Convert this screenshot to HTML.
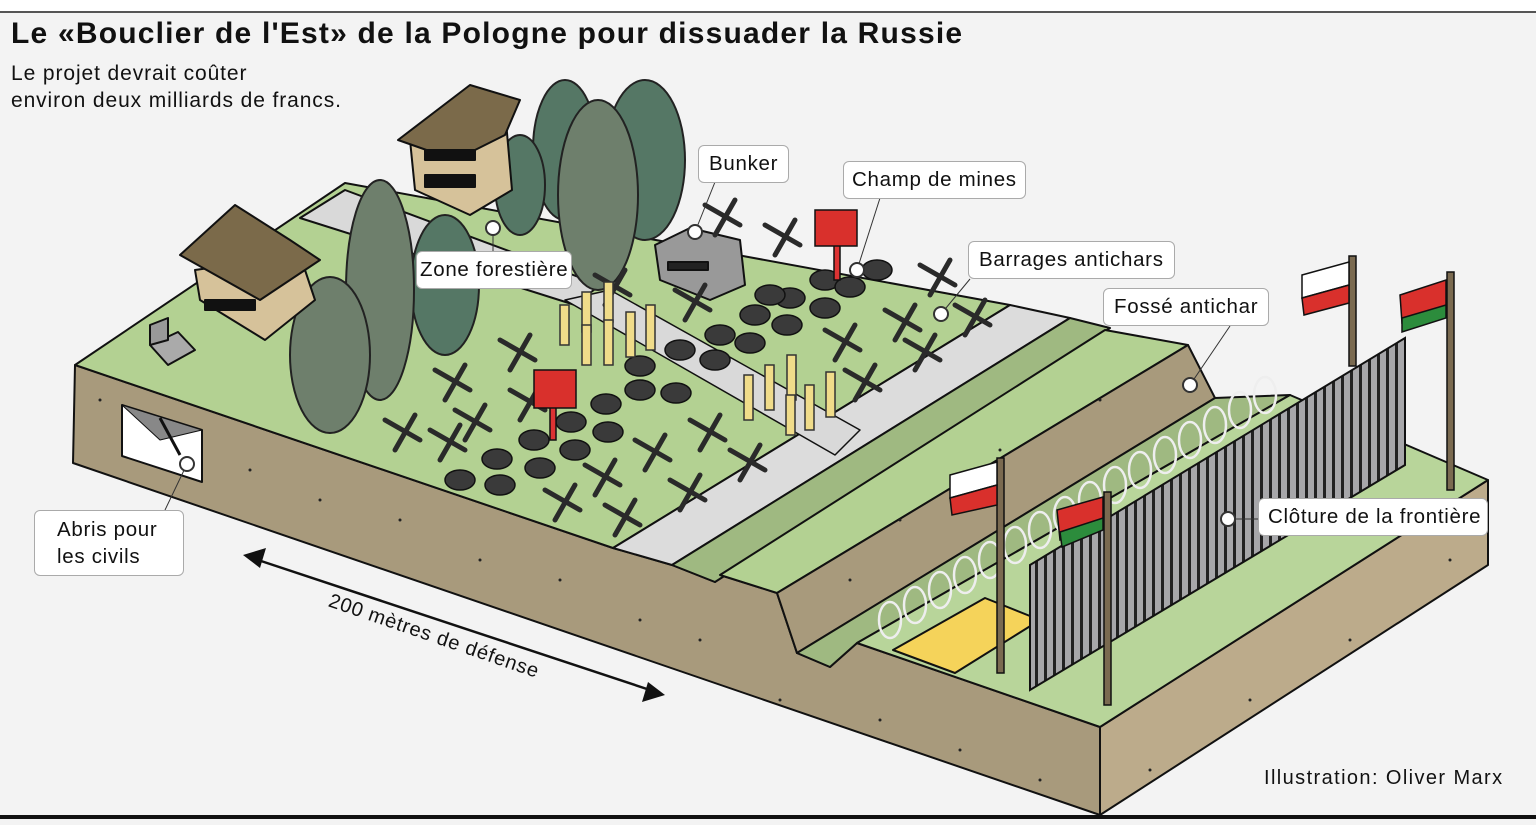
<!DOCTYPE html>
<html><head><meta charset="utf-8"><style>
html,body{margin:0;padding:0;}
body{width:1536px;height:825px;background:#f3f3f3;position:relative;overflow:hidden;font-family:"Liberation Sans",sans-serif;}
.top{position:absolute;left:0;top:0;width:1536px;height:11px;background:#fff;border-bottom:2px solid #555;}
.bot{position:absolute;left:0;top:815px;width:1536px;height:4px;background:#111;}
h1{position:absolute;left:11px;top:17px;margin:0;font-size:30px;font-weight:bold;color:#111;letter-spacing:1.2px;white-space:nowrap;}
.sub{position:absolute;left:11px;top:60px;font-size:21px;line-height:27px;color:#111;letter-spacing:0.9px;}
.lbl{position:absolute;background:#fff;border:1px solid #aaa;border-radius:6px;font-size:20.5px;color:#111;padding:0 8px;line-height:36px;white-space:nowrap;letter-spacing:0.7px;}
.cred{position:absolute;left:1264px;top:767px;font-size:20px;color:#111;letter-spacing:1.4px;}
svg{position:absolute;left:0;top:0;}
</style></head><body>
<div class="top"></div>
<h1>Le «Bouclier de l'Est» de la Pologne pour dissuader la Russie</h1>
<div class="sub">Le projet devrait coûter<br>environ deux milliards de francs.</div>
<svg width="1536" height="825" viewBox="0 0 1536 825">
<defs>
<pattern id="fz" width="9" height="10" patternUnits="userSpaceOnUse"><rect width="9" height="10" fill="#a7a7aa"/><rect width="3" height="10" fill="#222"/></pattern>
</defs>
<g stroke="#111" stroke-width="2" stroke-linejoin="round">
<polygon points="75,365 613,548 672,565 715,582 720,575 777,593 797,653 830,667 857,643 1100,727 1100,815 73,463" fill="#a89a7c"/>
<polygon points="1100,727 1488,480 1488,565 1100,815" fill="#bcab8b"/>
<polygon points="75,365 345,183 1010,305 613,548" fill="#b3d192"/>
<polygon points="613,548 672,565 1070,318 1010,305" fill="#dcdcdc"/>
<polygon points="672,565 715,582 1110,328 1070,318" fill="#9fb981"/>
<polygon points="720,575 777,593 1188,345 1105,330" fill="#b3d192"/>
<polygon points="777,593 797,653 1215,398 1188,345" fill="#a89a7c"/>
<polygon points="797,653 830,667 857,643 1290,395 1215,398" fill="#9fb981"/>
<polygon points="857,643 1290,395 1488,480 1100,727" fill="#b8d59a"/>
<polygon points="893,650 955,673 1040,620 985,598" fill="#f5d35a"/>
<polygon points="300,218 345,190 600,285 575,305" fill="#d9d9d9"/>
<polygon points="565,300 610,290 860,430 835,455" fill="#d9d9d9" stroke-width="1.5"/>
<polygon points="122,405 202,430 202,482 122,456" fill="#fff"/>
<polygon points="122,405 202,430 160,440" fill="#888" stroke-width="1"/>
<line x1="160" y1="418" x2="180" y2="455" stroke-width="3"/>
<polygon points="150,345 178,332 195,350 168,365" fill="#aaa"/>
<polygon points="150,325 168,318 168,340 150,345" fill="#999"/>
</g>
<g fill="#222">
<circle cx="100" cy="400" r="1.5"/><circle cx="250" cy="470" r="1.5"/><circle cx="320" cy="500" r="1.5"/><circle cx="400" cy="520" r="1.5"/><circle cx="480" cy="560" r="1.5"/><circle cx="560" cy="580" r="1.5"/><circle cx="640" cy="620" r="1.5"/><circle cx="700" cy="640" r="1.5"/><circle cx="780" cy="700" r="1.5"/><circle cx="880" cy="720" r="1.5"/><circle cx="960" cy="750" r="1.5"/><circle cx="1040" cy="780" r="1.5"/><circle cx="1150" cy="770" r="1.5"/><circle cx="1250" cy="700" r="1.5"/><circle cx="1350" cy="640" r="1.5"/><circle cx="1450" cy="560" r="1.5"/><circle cx="900" cy="520" r="1.5"/><circle cx="1000" cy="450" r="1.5"/><circle cx="1100" cy="400" r="1.5"/><circle cx="850" cy="580" r="1.5"/>
</g>
<g stroke="#222" stroke-width="2">
<ellipse cx="565" cy="150" rx="32" ry="70" fill="#557765"/>
<ellipse cx="645" cy="160" rx="40" ry="80" fill="#557765"/>
<ellipse cx="520" cy="185" rx="25" ry="50" fill="#557765"/>
<ellipse cx="598" cy="195" rx="40" ry="95" fill="#6e7f6c"/>
<ellipse cx="445" cy="285" rx="34" ry="70" fill="#557765"/>
<ellipse cx="380" cy="290" rx="34" ry="110" fill="#6e7f6c"/>
<ellipse cx="330" cy="355" rx="40" ry="78" fill="#6e7f6c"/>
</g>
<g stroke="#111" stroke-width="2" stroke-linejoin="round">
<polygon points="410,140 505,110 512,190 470,215 415,190" fill="#d6c29a"/>
<polygon points="398,140 470,85 520,100 505,135 455,160" fill="#7b6a4a"/>
<rect x="425" y="150" width="50" height="10" fill="#111"/><rect x="425" y="175" width="50" height="12" fill="#111"/>
<polygon points="195,270 300,255 315,300 265,340 200,300" fill="#d6c29a"/>
<polygon points="180,255 235,205 290,240 320,260 260,300" fill="#7b6a4a"/>
<rect x="205" y="300" width="50" height="10" fill="#111"/>
<polygon points="655,245 690,228 740,240 745,285 710,300 660,280" fill="#999"/>
<rect x="668" y="262" width="40" height="8" fill="#222"/>
</g>
<g fill="#3a3a3a" stroke="#111" stroke-width="1.5">
<ellipse cx="460" cy="480" rx="15" ry="10"/><ellipse cx="497" cy="459" rx="15" ry="10"/><ellipse cx="534" cy="440" rx="15" ry="10"/><ellipse cx="571" cy="422" rx="15" ry="10"/><ellipse cx="606" cy="404" rx="15" ry="10"/><ellipse cx="640" cy="390" rx="15" ry="10"/><ellipse cx="676" cy="393" rx="15" ry="10"/><ellipse cx="640" cy="366" rx="15" ry="10"/>
<ellipse cx="540" cy="468" rx="15" ry="10"/><ellipse cx="575" cy="450" rx="15" ry="10"/><ellipse cx="608" cy="432" rx="15" ry="10"/><ellipse cx="500" cy="485" rx="15" ry="10"/>
<ellipse cx="720" cy="335" rx="15" ry="10"/><ellipse cx="755" cy="315" rx="15" ry="10"/><ellipse cx="790" cy="298" rx="15" ry="10"/><ellipse cx="825" cy="280" rx="15" ry="10"/><ellipse cx="850" cy="287" rx="15" ry="10"/><ellipse cx="877" cy="270" rx="15" ry="10"/>
<ellipse cx="715" cy="360" rx="15" ry="10"/><ellipse cx="750" cy="343" rx="15" ry="10"/><ellipse cx="787" cy="325" rx="15" ry="10"/><ellipse cx="825" cy="308" rx="15" ry="10"/><ellipse cx="680" cy="350" rx="15" ry="10"/><ellipse cx="770" cy="295" rx="15" ry="10"/>
</g>
<g stroke="#2a2a2a" stroke-width="5" stroke-linecap="round">
<path d="M435,370 l35,20 M465,365 l-20,35"/><path d="M500,340 l35,20 M530,335 l-20,35"/><path d="M455,410 l35,20 M485,405 l-20,35"/><path d="M510,390 l35,20 M540,385 l-20,35"/><path d="M385,420 l35,20 M415,415 l-20,35"/><path d="M430,430 l35,20 M460,425 l-20,35"/><path d="M545,490 l35,20 M575,485 l-20,35"/><path d="M585,465 l35,20 M615,460 l-20,35"/><path d="M635,440 l35,20 M665,435 l-20,35"/><path d="M605,505 l35,20 M635,500 l-20,35"/><path d="M690,420 l35,20 M720,415 l-20,35"/><path d="M730,450 l35,20 M760,445 l-20,35"/><path d="M670,480 l35,20 M700,475 l-20,35"/><path d="M705,205 l35,20 M735,200 l-20,35"/><path d="M765,225 l35,20 M795,220 l-20,35"/><path d="M675,290 l35,20 M705,285 l-20,35"/><path d="M825,330 l35,20 M855,325 l-20,35"/><path d="M885,310 l35,20 M915,305 l-20,35"/><path d="M920,265 l35,20 M950,260 l-20,35"/><path d="M955,305 l35,20 M985,300 l-20,35"/><path d="M905,340 l35,20 M935,335 l-20,35"/><path d="M845,370 l35,20 M875,365 l-20,35"/><path d="M595,275 l35,20 M625,270 l-20,35"/>
</g>
<g fill="#f0dc8a" stroke="#333" stroke-width="1.5">
<rect x="560" y="305" width="9" height="40"/><rect x="582" y="292" width="9" height="40"/><rect x="604" y="282" width="9" height="40"/><rect x="582" y="325" width="9" height="40"/><rect x="604" y="320" width="9" height="45"/><rect x="626" y="312" width="9" height="45"/><rect x="646" y="305" width="9" height="45"/>
<rect x="744" y="375" width="9" height="45"/><rect x="765" y="365" width="9" height="45"/><rect x="787" y="355" width="9" height="45"/><rect x="805" y="385" width="9" height="45"/><rect x="826" y="372" width="9" height="45"/><rect x="786" y="395" width="9" height="40"/>
</g>
<g stroke="#111" stroke-width="1.5">
<rect x="834" y="230" width="6" height="50" fill="#d33"/><rect x="815" y="210" width="42" height="36" fill="#d9302c"/>
<rect x="550" y="390" width="6" height="50" fill="#d33"/><rect x="534" y="370" width="42" height="38" fill="#d9302c"/>
</g>
<g fill="none" stroke="#eee" stroke-width="2.5">
<ellipse cx="890" cy="620" rx="11" ry="18"/><ellipse cx="915" cy="605" rx="11" ry="18"/><ellipse cx="940" cy="590" rx="11" ry="18"/><ellipse cx="965" cy="575" rx="11" ry="18"/><ellipse cx="990" cy="560" rx="11" ry="18"/><ellipse cx="1015" cy="545" rx="11" ry="18"/><ellipse cx="1040" cy="530" rx="11" ry="18"/><ellipse cx="1065" cy="515" rx="11" ry="18"/><ellipse cx="1090" cy="500" rx="11" ry="18"/><ellipse cx="1115" cy="485" rx="11" ry="18"/><ellipse cx="1140" cy="470" rx="11" ry="18"/><ellipse cx="1165" cy="455" rx="11" ry="18"/><ellipse cx="1190" cy="440" rx="11" ry="18"/><ellipse cx="1215" cy="425" rx="11" ry="18"/><ellipse cx="1240" cy="410" rx="11" ry="18"/><ellipse cx="1265" cy="395" rx="11" ry="18"/>
</g>
<polygon points="1030,565 1405,338 1405,465 1030,690" fill="url(#fz)" stroke="#111" stroke-width="2"/>
<g stroke="#111" stroke-width="1.5">
<rect x="997" y="458" width="7" height="215" fill="#7a6a50"/>
<polygon points="950,475 997,462 997,485 950,498" fill="#fff"/><polygon points="950,498 997,485 997,505 952,515" fill="#d9302c"/>
<rect x="1104" y="492" width="7" height="213" fill="#7a6a50"/>
<polygon points="1057,510 1103,497 1103,525 1060,540" fill="#d9302c"/><polygon points="1060,532 1103,518 1103,530 1062,547" fill="#2c8c3c"/>
<rect x="1349" y="256" width="7" height="110" fill="#7a6a50"/>
<polygon points="1302,275 1349,262 1349,285 1302,298" fill="#fff"/><polygon points="1302,298 1349,285 1349,303 1304,315" fill="#d9302c"/>
<rect x="1447" y="272" width="7" height="218" fill="#7a6a50"/>
<polygon points="1400,295 1446,280 1446,310 1402,323" fill="#d9302c"/><polygon points="1402,318 1446,305 1446,318 1402,332" fill="#2c8c3c"/>
</g>
<line x1="258" y1="560" x2="650" y2="690" stroke="#111" stroke-width="2.5"/>
<polygon points="243,555 266,548 260,568" fill="#111"/>
<polygon points="665,695 642,702 648,682" fill="#111"/>
<text x="432" y="642" font-family="Liberation Sans, sans-serif" font-size="20" letter-spacing="0.8" fill="#111" text-anchor="middle" transform="rotate(19 432 642)">200 mètres de défense</text>
<g stroke="#333" stroke-width="1" fill="#fff">
<line x1="695" y1="232" x2="715" y2="182"/><line x1="857" y1="270" x2="880" y2="198"/><line x1="941" y1="314" x2="970" y2="279"/><line x1="1190" y1="385" x2="1230" y2="326"/><line x1="493" y1="228" x2="493" y2="252"/><line x1="187" y1="464" x2="165" y2="510"/><line x1="1228" y1="519" x2="1258" y2="519"/>
<circle cx="695" cy="232" r="7" stroke-width="2"/><circle cx="857" cy="270" r="7" stroke-width="2"/><circle cx="941" cy="314" r="7" stroke-width="2"/><circle cx="1190" cy="385" r="7" stroke-width="2"/><circle cx="493" cy="228" r="7" stroke-width="2"/><circle cx="187" cy="464" r="7" stroke-width="2"/><circle cx="1228" cy="519" r="7" stroke-width="2"/>
</g>
</svg>
<div class="lbl" style="left:698px;top:145px;padding:0 10px;">Bunker</div>
<div class="lbl" style="left:843px;top:161px;">Champ de mines</div>
<div class="lbl" style="left:968px;top:241px;padding:0 10px;">Barrages antichars</div>
<div class="lbl" style="left:1103px;top:288px;padding:0 10px;">Fossé antichar</div>
<div class="lbl" style="left:416px;top:251px;padding:0 3px;">Zone forestière</div>
<div class="lbl" style="left:34px;top:510px;line-height:27px;padding:5px 26px 5px 22px;">Abris pour<br>les civils</div>
<div class="lbl" style="left:1258px;top:498px;padding:0 6px 0 9px;">Clôture de la frontière</div>
<div class="cred">Illustration: Oliver Marx</div>
<div class="bot"></div>
</body></html>
